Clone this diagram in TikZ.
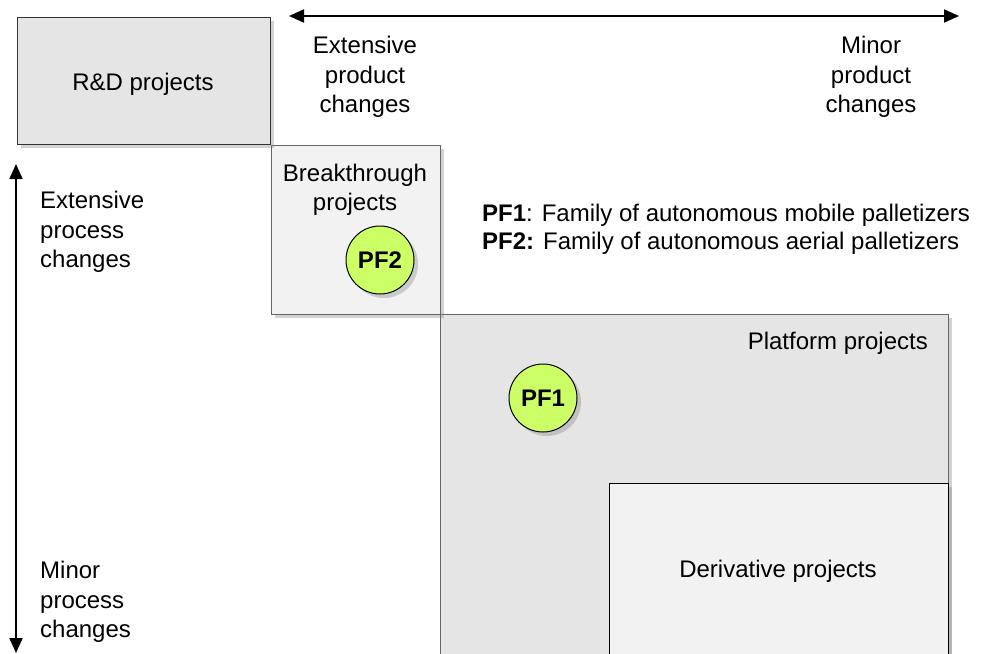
\documentclass[tikz,border=0pt]{standalone}
\usepackage{fontspec}
\setmainfont{Liberation Sans}
\usetikzlibrary{shadows,arrows.meta}
\definecolor{boxdark}{HTML}{E5E5E5}
\definecolor{boxlight}{HTML}{F2F2F2}
\definecolor{pfgreen}{HTML}{CCFF66}
\begin{document}
\begin{tikzpicture}[x=1pt,y=-1pt,
  lbl/.style={font=\fontsize{24}{29.5}\selectfont, text=black, inner sep=0pt},
  projbox/.style={draw=#1, line width=0.9pt, drop shadow={shadow xshift=4pt, shadow yshift=-4pt, opacity=0.35}},
  pfcircle/.style={circle, draw=black, line width=1pt, fill=pfgreen, minimum size=68pt, inner sep=0pt,
    font=\fontsize{24}{26}\selectfont\bfseries,
    drop shadow={shadow xshift=4pt, shadow yshift=-4pt, opacity=0.35}},
  axis/.style={line width=2pt, {Triangle[length=15pt,width=13pt]}-{Triangle[length=15pt,width=13pt]}}]
\useasboundingbox[fill=white] (0,0) rectangle (984,653);

% project areas
\path[projbox=gray!80!black, fill=boxdark] (440,314) rectangle (948,660);
\path[projbox=black, fill=boxlight] (609,483) rectangle (948,660);
\path[projbox=gray!80!black, fill=boxlight] (271,145) rectangle (440,314);
\path[projbox=black!80, fill=boxdark] (17,17) rectangle (270,144);

% area labels
\node[lbl] (rd) at (143,84) {R\&D projects};
\node[lbl, align=center] (bt) at (355,190) {Breakthrough\\projects};
\node[lbl, anchor=east] (pp) at (928,343) {Platform projects};
\node[lbl] (dp) at (778,571) {Derivative projects};

% product families
\node[pfcircle] (pf2) at (380,260) {PF2};
\node[pfcircle] (pf1) at (543,398) {PF1};

% legend
\node[lbl, anchor=west] (l1) at (482,215) {\textbf{PF1}: Family of autonomous mobile palletizers};
\node[lbl, anchor=west] (l2) at (482,243) {\textbf{PF2:} Family of autonomous aerial palletizers};

% axes
\coordinate (ha) at (289,16);
\coordinate (hb) at (959,16);
\draw[axis] (ha) -- (hb);
\coordinate (va) at (16,164);
\coordinate (vb) at (16,653);
\draw[axis] (va) -- (vb);

% axis labels
\node[lbl, align=center] (pe) at (365,77) {Extensive\\product\\changes};
\node[lbl, align=center] (pm) at (871,77) {Minor\\product\\changes};
\node[lbl, align=left, anchor=west] (xe) at (40,232) {Extensive\\process\\changes};
\node[lbl, align=left, anchor=west] (xm) at (40,602) {Minor\\process\\changes};
\end{tikzpicture}
\end{document}
